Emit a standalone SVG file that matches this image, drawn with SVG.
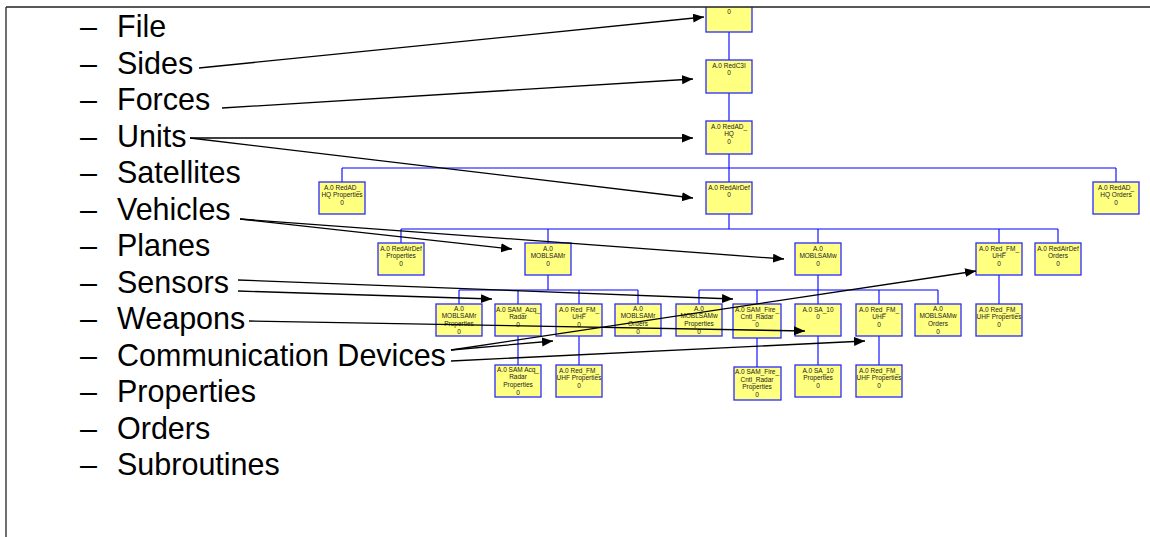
<svg xmlns="http://www.w3.org/2000/svg" width="1150" height="537" viewBox="0 0 1150 537">
<style>
.bx{fill:#ffff80;stroke:#2a2aff;stroke-width:1.3}
.bt{font-family:"Liberation Sans",Arial,sans-serif;font-size:6.5px;fill:#222;text-anchor:middle}
.tr{stroke:#0000ff;stroke-width:1.1;fill:none}
.ar{stroke:#000;stroke-width:1.3;fill:none;marker-end:url(#ah)}
.lt{font-family:"Liberation Sans",Arial,sans-serif;font-size:30.5px;fill:#000}
</style>
<defs>
<marker id="ah" markerUnits="userSpaceOnUse" markerWidth="12" markerHeight="10" refX="11" refY="4.5" orient="auto">
<path d="M0,0 L11,4.5 L0,9 z" fill="#000"/>
</marker>
</defs>
<rect x="0" y="0" width="1150" height="537" fill="#fff"/>

<g id="connectors-tree">
<path class="tr" d="M729,32V60M729,93V121M729,154V182M342,168H1116M342,168V182M1116,168V182"/>
<path class="tr" d="M729,214V229M401,229H1058M401,229V243M548,229V243M818,229V243M999,229V243M1058,229V243"/>
<path class="tr" d="M548,275V290M459,290H638M459,290V304M518,290V304M579,290V304M638,290V304"/>
<path class="tr" d="M818,275V304M699,290H938M699,290V304M757,290V304M879,290V304M938,290V304"/>
<path class="tr" d="M999,275V304M518,336V365M579,336V365M757,338V367M818,336V365M879,336V365"/>
</g>

<g id="n_file"><rect class="bx" x="706" y="-20" width="46" height="52"/><text class="bt" x="729" y="14">0</text></g>
<g id="n_redc3i"><rect class="bx" x="706" y="60" width="46" height="33"/><text class="bt" x="729" y="68.4">A.0 RedC3I</text><text class="bt" x="729" y="75">0</text></g>
<g id="n_redadhq"><rect class="bx" x="706" y="121" width="46" height="33"/><text class="bt" x="729" y="129">A.0 RedAD_</text><text class="bt" x="729" y="136">HQ</text><text class="bt" x="729" y="144">0</text></g>
<g id="n_redadhq_props"><rect class="bx" x="319" y="182" width="46" height="32"/><text class="bt" x="342" y="189.5">A.0 RedAD_</text><text class="bt" x="342" y="197">HQ Properties</text><text class="bt" x="342" y="204.5">0</text></g>
<g id="n_redairdef"><rect class="bx" x="706" y="182" width="46" height="32"/><text class="bt" x="729" y="189.5">A.0 RedAirDef</text><text class="bt" x="729" y="197">0</text></g>
<g id="n_redadhq_orders"><rect class="bx" x="1093" y="182" width="46" height="32"/><text class="bt" x="1116" y="189.5">A.0 RedAD_</text><text class="bt" x="1116" y="197">HQ Orders</text><text class="bt" x="1116" y="204.5">0</text></g>

<g id="n_redairdef_props"><rect class="bx" x="378" y="243" width="46" height="32"/><text class="bt" x="401" y="250.5">A.0 RedAirDef</text><text class="bt" x="401" y="258">Properties</text><text class="bt" x="401" y="265.5">0</text></g>
<g id="n_moblsamr"><rect class="bx" x="525" y="243" width="46" height="32"/><text class="bt" x="548" y="250.5">A.0</text><text class="bt" x="548" y="258">MOBLSAMr</text><text class="bt" x="548" y="265.5">0</text></g>
<g id="n_moblsamw"><rect class="bx" x="795" y="243" width="46" height="32"/><text class="bt" x="818" y="250.5">A.0</text><text class="bt" x="818" y="258">MOBLSAMw</text><text class="bt" x="818" y="265.5">0</text></g>
<g id="n_redfmuhf_a"><rect class="bx" x="976" y="243" width="46" height="32"/><text class="bt" x="999" y="250.5">A.0 Red_FM_</text><text class="bt" x="999" y="258">UHF</text><text class="bt" x="999" y="265.5">0</text></g>
<g id="n_redairdef_orders"><rect class="bx" x="1035" y="243" width="46" height="32"/><text class="bt" x="1058" y="250.5">A.0 RedAirDef</text><text class="bt" x="1058" y="258">Orders</text><text class="bt" x="1058" y="265.5">0</text></g>

<g id="n_moblsamr_props"><rect class="bx" x="436" y="304" width="46" height="32"/><text class="bt" x="459" y="310.5">A.0</text><text class="bt" x="459" y="318">MOBLSAMr</text><text class="bt" x="459" y="325.5">Properties</text><text class="bt" x="459" y="333.5">0</text></g>
<g id="n_samacq"><rect class="bx" x="495" y="304" width="46" height="32"/><text class="bt" x="518" y="311.5">A.0 SAM_Acq_</text><text class="bt" x="518" y="319">Radar</text><text class="bt" x="518" y="326.5">0</text></g>
<g id="n_redfmuhf_r"><rect class="bx" x="556" y="304" width="46" height="32"/><text class="bt" x="579" y="311.5">A.0 Red_FM_</text><text class="bt" x="579" y="319">UHF</text><text class="bt" x="579" y="326.5">0</text></g>
<g id="n_moblsamr_orders"><rect class="bx" x="615" y="304" width="46" height="32"/><text class="bt" x="638" y="310.5">A.0</text><text class="bt" x="638" y="318">MOBLSAMr</text><text class="bt" x="638" y="325.5">Orders</text><text class="bt" x="638" y="333.5">0</text></g>
<g id="n_moblsamw_props"><rect class="bx" x="676" y="304" width="46" height="32"/><text class="bt" x="699" y="310.5">A.0</text><text class="bt" x="699" y="318">MOBLSAMw</text><text class="bt" x="699" y="325.5">Properties</text><text class="bt" x="699" y="333.5">0</text></g>
<g id="n_samfire"><rect class="bx" x="733" y="304" width="48" height="34"/><text class="bt" x="757" y="311.5">A.0 SAM_Fire_</text><text class="bt" x="757" y="319">Cntl_Radar</text><text class="bt" x="757" y="326.5">0</text></g>
<g id="n_sa10"><rect class="bx" x="795" y="304" width="46" height="32"/><text class="bt" x="818" y="311.5">A.0 SA_10</text><text class="bt" x="818" y="319">0</text></g>
<g id="n_redfmuhf_w"><rect class="bx" x="856" y="304" width="46" height="32"/><text class="bt" x="879" y="311.5">A.0 Red_FM_</text><text class="bt" x="879" y="319">UHF</text><text class="bt" x="879" y="326.5">0</text></g>
<g id="n_moblsamw_orders"><rect class="bx" x="915" y="304" width="46" height="32"/><text class="bt" x="938" y="310.5">A.0</text><text class="bt" x="938" y="318">MOBLSAMw</text><text class="bt" x="938" y="325.5">Orders</text><text class="bt" x="938" y="333.5">0</text></g>
<g id="n_redfmuhf_a_props"><rect class="bx" x="976" y="304" width="46" height="32"/><text class="bt" x="999" y="311.5">A.0 Red_FM_</text><text class="bt" x="999" y="319">UHF Properties</text><text class="bt" x="999" y="326.5">0</text></g>

<g id="n_samacq_props"><rect class="bx" x="495" y="365" width="46" height="32"/><text class="bt" x="518" y="371.5">A.0 SAM Acq_</text><text class="bt" x="518" y="379">Radar</text><text class="bt" x="518" y="386.5">Properties</text><text class="bt" x="518" y="394.5">0</text></g>
<g id="n_redfmuhf_r_props"><rect class="bx" x="556" y="365" width="46" height="32"/><text class="bt" x="579" y="372.5">A.0 Red_FM_</text><text class="bt" x="579" y="380">UHF Properties</text><text class="bt" x="579" y="387.5">0</text></g>
<g id="n_samfire_props"><rect class="bx" x="734" y="367" width="47" height="33"/><text class="bt" x="757" y="374">A.0 SAM_Fire_</text><text class="bt" x="757" y="382">Cntl_Radar</text><text class="bt" x="757" y="389">Properties</text><text class="bt" x="757" y="396.5">0</text></g>
<g id="n_sa10_props"><rect class="bx" x="795" y="365" width="46" height="32"/><text class="bt" x="818" y="372.5">A.0 SA_10</text><text class="bt" x="818" y="380">Properties</text><text class="bt" x="818" y="387.5">0</text></g>
<g id="n_redfmuhf_w_props"><rect class="bx" x="856" y="365" width="46" height="32"/><text class="bt" x="879" y="372.5">A.0 Red_FM_</text><text class="bt" x="879" y="380">UHF Properties</text><text class="bt" x="879" y="387.5">0</text></g>

<rect x="0" y="0" width="1150" height="7" fill="#fff"/>
<path d="M6,7H1150M6,7V537" stroke="#222" stroke-width="1.3" fill="none"/>

<g id="list">
<text class="lt" x="80" y="37">–</text><text class="lt" x="117" y="37">File</text>
<text class="lt" x="80" y="73.5">–</text><text class="lt" x="117" y="73.5">Sides</text>
<text class="lt" x="80" y="110">–</text><text class="lt" x="117" y="110">Forces</text>
<text class="lt" x="80" y="146.5">–</text><text class="lt" x="117" y="146.5">Units</text>
<text class="lt" x="80" y="183">–</text><text class="lt" x="117" y="183">Satellites</text>
<text class="lt" x="80" y="219.5">–</text><text class="lt" x="117" y="219.5">Vehicles</text>
<text class="lt" x="80" y="256">–</text><text class="lt" x="117" y="256">Planes</text>
<text class="lt" x="80" y="292.5">–</text><text class="lt" x="117" y="292.5">Sensors</text>
<text class="lt" x="80" y="329">–</text><text class="lt" x="117" y="329">Weapons</text>
<text class="lt" x="80" y="365.5">–</text><text class="lt" x="117" y="365.5">Communication Devices</text>
<text class="lt" x="80" y="402">–</text><text class="lt" x="117" y="402">Properties</text>
<text class="lt" x="80" y="438.5">–</text><text class="lt" x="117" y="438.5">Orders</text>
<text class="lt" x="80" y="475">–</text><text class="lt" x="117" y="475">Subroutines</text>
</g>

<g id="connectors-arrows">
<line class="ar" x1="199" y1="68" x2="704" y2="17"/>
<line class="ar" x1="222" y1="108" x2="693" y2="79"/>
<line class="ar" x1="190" y1="138" x2="693" y2="138"/>
<line class="ar" x1="190" y1="138" x2="693" y2="198"/>
<line class="ar" x1="240" y1="219" x2="512" y2="249"/>
<line class="ar" x1="240" y1="219" x2="784" y2="259"/>
<line class="ar" x1="238" y1="280" x2="733" y2="299"/>
<line class="ar" x1="238" y1="291" x2="492" y2="299"/>
<line class="ar" x1="249" y1="321" x2="805" y2="331"/>
<line class="ar" x1="451" y1="350" x2="553" y2="341"/>
<line class="ar" x1="451" y1="350" x2="976" y2="271"/>
<line class="ar" x1="451" y1="361" x2="865" y2="341"/>
</g>
</svg>
